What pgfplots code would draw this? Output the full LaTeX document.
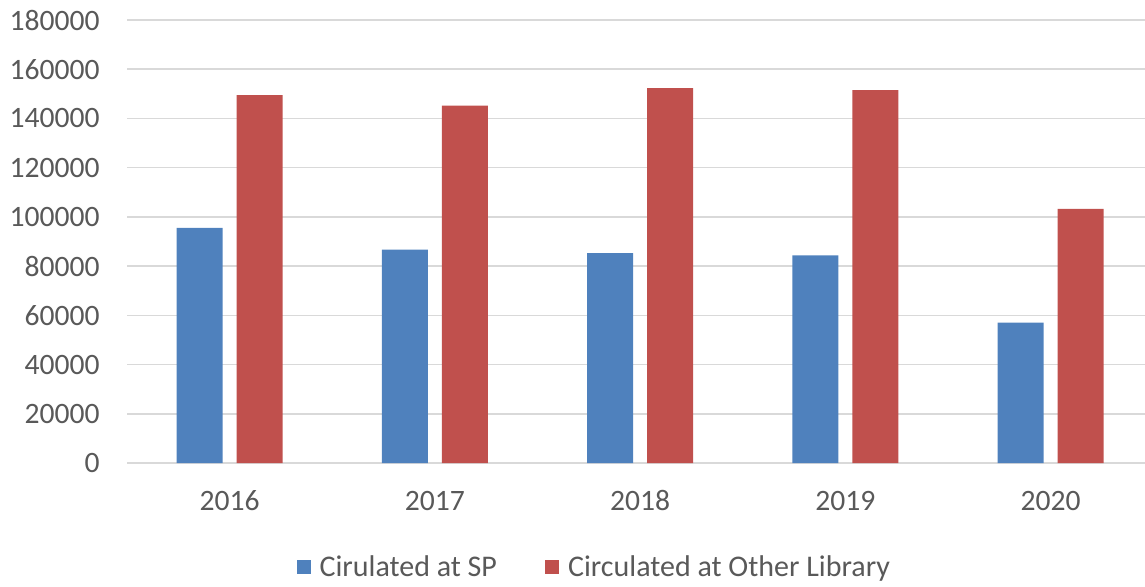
\documentclass[border=0pt]{standalone}
\usepackage{pgfplots}
\pgfplotsset{compat=1.18}
\usepackage{fontspec}
\setmainfont{Carlito}
\definecolor{sp}{HTML}{4F81BD}
\definecolor{ol}{HTML}{C0504D}
\definecolor{gridc}{HTML}{D9D9D9}
\definecolor{txt}{HTML}{595959}
\begin{document}
\begin{tikzpicture}
\useasboundingbox (0,0) rectangle (572.5pt,293pt);
\begin{axis}[
  at={(63.5pt,61.5pt)}, anchor=south west,
  scale only axis, width=509pt, height=221.5pt,
  ybar=7pt, bar width=23pt,
  xmin=-0.5, xmax=4.46, ymin=0, ymax=180000,
  xtick=data, xticklabels={2016,2017,2018,2019,2020},
  ytick={0,20000,40000,60000,80000,100000,120000,140000,160000,180000},
  yticklabels={0,20000,40000,60000,80000,100000,120000,140000,160000,180000},
  scaled y ticks=false,
  axis line style={draw=none},
  ymajorgrids, grid style={gridc, line width=0.75pt},
  major tick length=0pt, tick style={draw=none},
  font=\fontsize{14.8}{16}\selectfont,
  ticklabel style={txt, font=\fontsize{14.8}{16}\selectfont},
  yticklabel style={anchor=east, inner sep=0pt, xshift=-13.5pt},
  xticklabel style={anchor=base, inner sep=0pt, yshift=-23.5pt},
  legend columns=2,
  legend style={draw=none, fill=none, at={(0.46,-0.235)}, anchor=center,
    font=\fontsize{15}{16}\selectfont, text=txt,
    /tikz/every even column/.append style={column sep=22pt},
    /tikz/every odd column/.append style={column sep=2.5pt},
    nodes={inner sep=2pt}},
  clip=false,
]
\addplot[fill=sp, draw=none, legend image code/.code={\fill[sp] (-2pt,-3.5pt) rectangle (5pt,3.5pt);}]
  coordinates {(0,95500) (1,86700) (2,85300) (3,84400) (4,57000)};
\addplot[fill=ol, draw=none, legend image code/.code={\fill[ol] (-2pt,-3.5pt) rectangle (5pt,3.5pt);}]
  coordinates {(0,149500) (1,145200) (2,152300) (3,151500) (4,103300)};
\legend{Cirulated at SP, Circulated at Other Library}
\end{axis}
\end{tikzpicture}
\end{document}
